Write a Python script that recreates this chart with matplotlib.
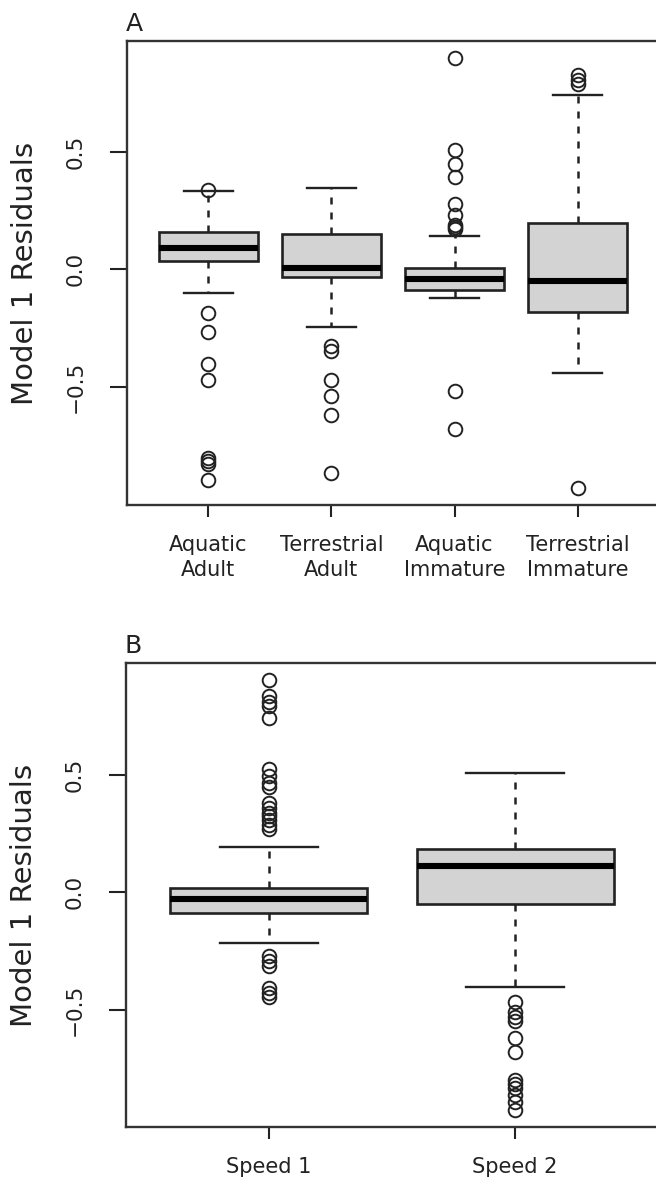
import matplotlib
matplotlib.use("Agg")
import matplotlib.pyplot as plt

# Panel A: residuals by habitat / life stage
labels_a = ["Aquatic\nAdult", "Terrestrial\nAdult", "Aquatic\nImmature", "Terrestrial\nImmature"]
q1_a = [0.037, -0.033, -0.087, -0.180]
med_a = [0.090, 0.005, -0.042, -0.049]
q3_a = [0.158, 0.151, 0.005, 0.197]
whislo_a = [-0.101, -0.248, -0.123, -0.442]
whishi_a = [0.334, 0.345, 0.140, 0.743]
fliers_a = [
    [0.338, -0.186, -0.267, -0.403, -0.470, -0.803, -0.818, -0.829, -0.896],
    [-0.328, -0.350, -0.470, -0.541, -0.622, -0.870],
    [0.899, 0.509, 0.448, 0.391, 0.279, 0.232, 0.190, 0.180, 0.172, -0.520, -0.679],
    [0.828, 0.806, 0.788, -0.931],
]

# Panel B: residuals by speed
labels_b = ["Speed 1", "Speed 2"]
q1_b = [-0.089, -0.049]
med_b = [-0.029, 0.110]
q3_b = [0.018, 0.185]
whislo_b = [-0.216, -0.401]
whishi_b = [0.191, 0.507]
fliers_b = [
    [0.901, 0.833, 0.808, 0.791, 0.741, 0.524, 0.496, 0.467, 0.446, 0.382,
     0.358, 0.337, 0.323, 0.309, 0.287, 0.269,
     -0.270, -0.291, -0.313, -0.408, -0.429, -0.446],
    [-0.465, -0.507, -0.528, -0.547, -0.621, -0.680, -0.798, -0.815,
     -0.833, -0.862, -0.890, -0.926],
]

INK = "#222222"


def draw_panel(ax, labels, q1, med, q3, lo, hi, fliers, letter):
    stats = []
    for i in range(len(labels)):
        stats.append(dict(med=med[i], q1=q1[i], q3=q3[i],
                          whislo=lo[i], whishi=hi[i], fliers=fliers[i]))
    n = len(labels)
    pos = list(range(1, n + 1))
    ax.bxp(
        stats, positions=pos, widths=0.8, patch_artist=True,
        boxprops=dict(facecolor="#d3d3d3", edgecolor=INK, linewidth=1.9),
        medianprops=dict(color="black", linewidth=4.4, solid_capstyle="butt"),
        whiskerprops=dict(color=INK, linewidth=1.8, linestyle=(0, (2.8, 3.2))),
        capprops=dict(color=INK, linewidth=1.7),
        flierprops=dict(marker="o", markerfacecolor="none", markeredgecolor=INK,
                        markersize=9.8, markeredgewidth=1.4),
    )

    # R-style limits: data range padded by 4%
    allv = lo + hi + [v for f in fliers for v in f]
    ymin, ymax = min(allv), max(allv)
    pad = 0.04 * (ymax - ymin)
    ax.set_ylim(ymin - pad, ymax + pad)
    ax.set_xlim(0.5 - 0.04 * n, n + 0.5 + 0.04 * n)

    ax.set_xticks(pos)
    ax.set_xticklabels(labels, fontsize=15, color=INK, linespacing=1.35)
    ax.set_yticks([-0.5, 0.0, 0.5])
    ax.set_yticklabels(["\u22120.5", "0.0", "0.5"], fontsize=15.5, color=INK)
    for t in ax.get_yticklabels():
        t.set_rotation(90)
        t.set_va("center")
    ax.tick_params(axis="x", length=8.5, width=1.5, pad=13, color=INK)
    ax.tick_params(axis="y", length=12, width=1.5, pad=18, color=INK)

    for s in ax.spines.values():
        s.set_linewidth(1.7)
        s.set_color("#333333")

    ax.set_ylabel("Model 1 Residuals", fontsize=21, color=INK)
    ax.yaxis.set_label_coords(-0.165, 0.5)
    ax.text(-0.003, 1.022, letter, transform=ax.transAxes, fontsize=18,
            ha="left", va="baseline", color=INK)


fig = plt.figure(figsize=(6.56, 11.92), dpi=100)
ax_a = fig.add_axes([127 / 656, 1 - 505 / 1192, 532 / 656, 464 / 1192])
ax_b = fig.add_axes([126 / 656, 1 - 1127.3 / 1192, 532 / 656, 464 / 1192])

draw_panel(ax_a, labels_a, q1_a, med_a, q3_a, whislo_a, whishi_a, fliers_a, "A")
draw_panel(ax_b, labels_b, q1_b, med_b, q3_b, whislo_b, whishi_b, fliers_b, "B")

fig.savefig("out.png", dpi=100)
